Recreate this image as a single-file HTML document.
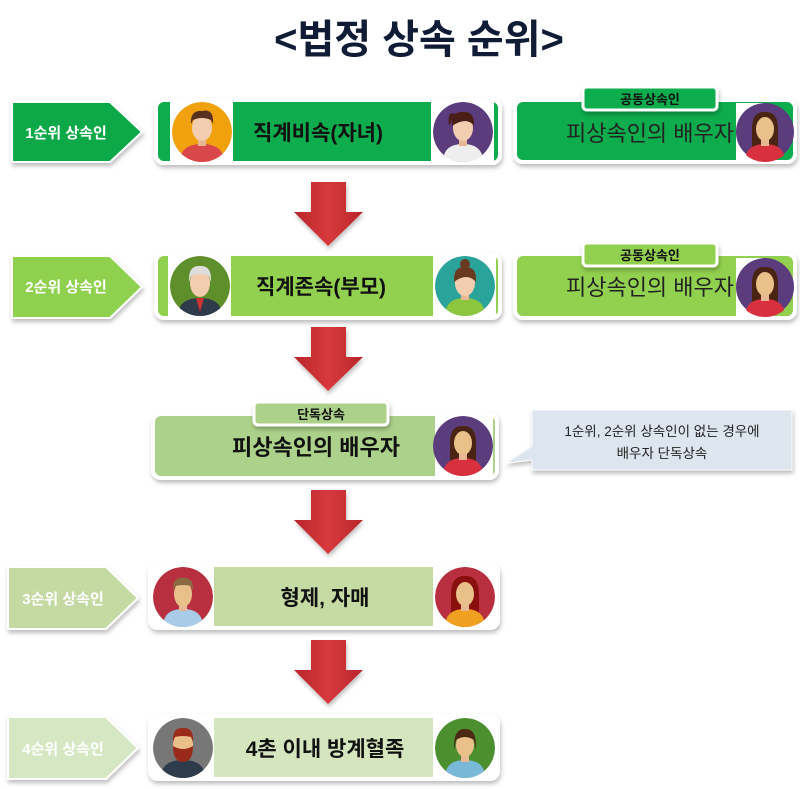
<!DOCTYPE html>
<html><head><meta charset="utf-8">
<style>
html,body{margin:0;padding:0;background:#fff;width:800px;height:789px;overflow:hidden}
text{font-family:"Liberation Sans","Noto Sans CJK KR",sans-serif}
</style></head><body>
<svg width="800" height="789" viewBox="0 0 800 789" xmlns="http://www.w3.org/2000/svg">
<defs>
<filter id="sh" x="-10%" y="-20%" width="120%" height="150%"><feDropShadow dx="1" dy="3" stdDeviation="2" flood-color="#000" flood-opacity="0.25"/></filter>
<clipPath id="cc"><circle cx="0" cy="0" r="30"/></clipPath>
<linearGradient id="ar" x1="0" x2="1"><stop offset="0" stop-color="#b8262b"/><stop offset="0.5" stop-color="#d8393c"/><stop offset="1" stop-color="#b8262b"/></linearGradient>
</defs>

<text x="419" y="53" text-anchor="middle" font-size="40" font-weight="bold" fill="#101c36">&lt;법정 상속 순위&gt;</text>

<!-- labels -->
<g filter="url(#sh)">
<polygon points="12,102 110,102 142,132 110,162 12,162" fill="#10a94a" stroke="#fff" stroke-width="2"/>
<polygon points="12,256 110,256 142,287 110,318 12,318" fill="#8fd14f" stroke="#fff" stroke-width="2"/>
<polygon points="8,567 106,567 138,598 106,629 8,629" fill="#c4daa2" stroke="#fff" stroke-width="2"/>
<polygon points="8,717 106,717 138,748 106,779 8,779" fill="#d6e8c3" stroke="#fff" stroke-width="2"/>
</g>
<g font-size="15" font-weight="bold" fill="#fff" text-anchor="middle">
<text x="66" y="138">1순위 상속인</text>
<text x="66" y="292">2순위 상속인</text>
<text x="63" y="604">3순위 상속인</text>
<text x="63" y="754">4순위 상속인</text>
</g>

<!-- main boxes -->
<g filter="url(#sh)" stroke="#fff" stroke-width="4">
<rect x="156" y="100" width="344" height="63" rx="8" fill="#0eac4e"/>
<rect x="156" y="254" width="344" height="64" rx="8" fill="#92d050"/>
<rect x="153" y="414" width="344" height="64" rx="8" fill="#acd18a"/>
<rect x="150" y="565" width="348" height="63" rx="8" fill="#c5dba3"/>
<rect x="150" y="716" width="348" height="63" rx="8" fill="#d5e6bf"/>
<rect x="515" y="100" width="280" height="62" rx="8" fill="#0eac4e"/>
<rect x="515" y="254" width="280" height="64" rx="8" fill="#92d050"/>
</g>
<!-- badges -->
<g filter="url(#sh)" stroke="#fff" stroke-width="3">
<rect x="583" y="87" width="134" height="23" rx="4" fill="#0eac4e"/>
<rect x="583" y="243" width="134" height="23" rx="4" fill="#92d050"/>
<rect x="254" y="402" width="134" height="23" rx="4" fill="#acd18a"/>
</g>
<g font-size="13" font-weight="bold" fill="#111" text-anchor="middle">
<text x="650" y="104">공동상속인</text>
<text x="650" y="260">공동상속인</text>
<text x="321" y="419">단독상속</text>
</g>

<!-- callout -->
<g filter="url(#sh)">
<polygon points="532,410 792,410 792,470 532,470 532,460 506,463 532,446" fill="#dde5ef" stroke="#fff" stroke-width="1"/>
</g>
<g font-size="13.5" fill="#222" text-anchor="middle">
<text x="662" y="436">1순위, 2순위 상속인이 없는 경우에</text>
<text x="662" y="458">배우자 단독상속</text>
</g>

<!-- texts -->
<g font-size="21" font-weight="bold" fill="#111" text-anchor="middle">
<text x="318" y="140">직계비속(자녀)</text>
<text x="321" y="294">직계존속(부모)</text>
<text x="316" y="455" font-size="22">피상속인의 배우자</text>
<text x="325" y="605">형제, 자매</text>
<text x="325" y="756">4촌 이내 방계혈족</text>
</g>
<g font-size="22" fill="#222" text-anchor="middle">
<text x="650" y="141">피상속인의 배우자</text>
<text x="650" y="295">피상속인의 배우자</text>
</g>

<!-- arrows -->
<g fill="url(#ar)" filter="url(#sh)">
<polygon points="311,182 346,182 346,212 363,212 328,246 294,212 311,212"/>
<polygon points="311,327 346,327 346,357 363,357 328,391 294,357 311,357"/>
<polygon points="311,490 346,490 346,520 363,520 328,554 294,520 311,520"/>
<polygon points="311,640 346,640 346,670 363,670 328,704 294,670 311,670"/>
</g>

<!-- avatars -->
<g>
<g transform="translate(202,132)"><rect x="-32" y="-30" width="63" height="60" fill="#fff"/><g clip-path="url(#cc)"><circle r="30" fill="#f0a10d"/><path d="M-22,30 Q-22,12 0,12 Q22,12 22,30Z" fill="#d9474a"/><rect x="-4" y="4" width="8" height="10" fill="#e8b894"/><ellipse cx="0" cy="-4" rx="10" ry="13" fill="#f3cdb0"/><path d="M-11,-8 Q-12,-22 0,-21 Q12,-24 11,-8 L9,-12 Q0,-16 -9,-12Z" fill="#5a3020"/></g></g>
<g transform="translate(463,132)"><rect x="-32" y="-30" width="63" height="60" fill="#fff"/><g clip-path="url(#cc)"><circle r="30" fill="#5b3d7e"/><path d="M-20,30 Q-20,12 0,12 Q20,12 20,30Z" fill="#eee"/><rect x="-4" y="4" width="8" height="10" fill="#e8b894"/><ellipse cx="0" cy="-4" rx="10" ry="13" fill="#f3cdb0"/><path d="M-11,-6 Q-12,-21 0,-20 Q12,-21 11,-6 Q4,-16 -11,-6Z M-8,-18 Q-16,-22 -14,-6Z" fill="#4a1e14"/></g></g>
<g transform="translate(200,286)"><rect x="-32" y="-31" width="63" height="62" fill="#fff"/><g clip-path="url(#cc)"><circle r="30" fill="#5f8f2a"/><path d="M-22,30 Q-22,12 0,12 Q22,12 22,30Z" fill="#2e3b4a"/><path d="M-4,12 L4,12 L0,26Z" fill="#c33"/><ellipse cx="0" cy="-3" rx="10" ry="14" fill="#f3cdb0"/><path d="M-11,-4 Q-12,-21 0,-20 Q12,-21 11,-4 L9,-10 Q0,-14 -9,-10Z" fill="#ddd"/></g></g>
<g transform="translate(465,286)"><rect x="-32" y="-31" width="63" height="62" fill="#fff"/><g clip-path="url(#cc)"><circle r="30" fill="#2aa39a"/><path d="M-20,30 Q-20,12 0,12 Q20,12 20,30Z" fill="#8cc63f"/><rect x="-4" y="4" width="8" height="10" fill="#e8b894"/><ellipse cx="0" cy="-3" rx="10" ry="13" fill="#f3cdb0"/><path d="M-11,-4 Q-12,-20 0,-19 Q12,-20 11,-4 Q2,-14 -11,-4Z" fill="#6a3a20"/><circle cx="0" cy="-22" r="5" fill="#6a3a20"/></g></g>
<g transform="translate(183,597)"><rect x="-32" y="-31" width="63" height="62" fill="#fff"/><g clip-path="url(#cc)"><circle r="30" fill="#b8303f"/><path d="M-20,30 Q-20,12 0,12 Q20,12 20,30Z" fill="#a8cce8"/><rect x="-4" y="4" width="8" height="10" fill="#e8b894"/><ellipse cx="0" cy="-3" rx="9" ry="13" fill="#e9bf8a"/><path d="M-10,-6 Q-11,-20 0,-19 Q11,-20 10,-6 L8,-11 Q0,-13 -8,-11Z" fill="#8a6a40"/></g></g>
<g transform="translate(465,597)"><rect x="-32" y="-31" width="63" height="62" fill="#fff"/><g clip-path="url(#cc)"><circle r="30" fill="#b8303f"/><path d="M-14,-2 Q-14,-22 0,-21 Q14,-22 14,-2 L14,16 L-14,16Z" fill="#8a1010"/><path d="M-20,30 Q-20,12 0,12 Q20,12 20,30Z" fill="#f0a020"/><rect x="-4" y="4" width="8" height="10" fill="#e8b894"/><ellipse cx="0" cy="-3" rx="9" ry="12" fill="#e9bf8a"/></g></g>
<g transform="translate(183,748)"><rect x="-32" y="-31" width="63" height="62" fill="#fff"/><g clip-path="url(#cc)"><circle r="30" fill="#777"/><path d="M-22,30 Q-22,12 0,12 Q22,12 22,30Z" fill="#2e3b4a"/><ellipse cx="0" cy="-3" rx="10" ry="14" fill="#e9bf8a"/><path d="M-10,-2 Q-10,14 0,14 Q10,14 10,-2 Q0,4 -10,-2Z M-10,-6 Q-11,-21 0,-20 Q11,-21 10,-6 L8,-11 Q0,-13 -8,-11Z" fill="#9a2a1a"/></g></g>
<g transform="translate(465,748)"><rect x="-32" y="-31" width="63" height="62" fill="#fff"/><g clip-path="url(#cc)"><circle r="30" fill="#4c8f2f"/><path d="M-20,30 Q-20,12 0,12 Q20,12 20,30Z" fill="#7ab8d8"/><rect x="-4" y="4" width="8" height="10" fill="#e8b894"/><ellipse cx="0" cy="-3" rx="9" ry="12" fill="#e9bf8a"/><path d="M-11,2 Q-12,-20 0,-19 Q12,-20 11,2 L9,-8 Q0,-14 -9,-8Z" fill="#4a2a12"/></g></g>
<g transform="translate(765,132)"><rect x="-29" y="-29" width="30" height="58" fill="#fff"/><g clip-path="url(#cc)"><circle r="29" fill="#5b3d7e"/><path d="M-13,0 Q-14,-21 0,-20 Q14,-21 13,0 L13,16 L-13,16Z" fill="#4a2412"/><path d="M-20,30 Q-20,12 0,12 Q20,12 20,30Z" fill="#d8303f"/><rect x="-4" y="4" width="8" height="10" fill="#e8b894"/><ellipse cx="0" cy="-3" rx="9" ry="12" fill="#e9bf8a"/></g></g>
<g transform="translate(765,287)"><rect x="-29" y="-29" width="30" height="58" fill="#fff"/><g clip-path="url(#cc)"><circle r="29" fill="#5b3d7e"/><path d="M-13,0 Q-14,-21 0,-20 Q14,-21 13,0 L13,16 L-13,16Z" fill="#4a2412"/><path d="M-20,30 Q-20,12 0,12 Q20,12 20,30Z" fill="#d8303f"/><rect x="-4" y="4" width="8" height="10" fill="#e8b894"/><ellipse cx="0" cy="-3" rx="9" ry="12" fill="#e9bf8a"/></g></g>
<g transform="translate(463,446)"><rect x="-28" y="-31" width="58" height="62" fill="#fff"/><g clip-path="url(#cc)"><circle r="30" fill="#5b3d7e"/><path d="M-13,0 Q-14,-21 0,-20 Q14,-21 13,0 L13,16 L-13,16Z" fill="#4a2412"/><path d="M-20,30 Q-20,12 0,12 Q20,12 20,30Z" fill="#d8303f"/><rect x="-4" y="4" width="8" height="10" fill="#e8b894"/><ellipse cx="0" cy="-3" rx="9" ry="12" fill="#e9bf8a"/></g></g>
</g>
</svg>
</body></html>
